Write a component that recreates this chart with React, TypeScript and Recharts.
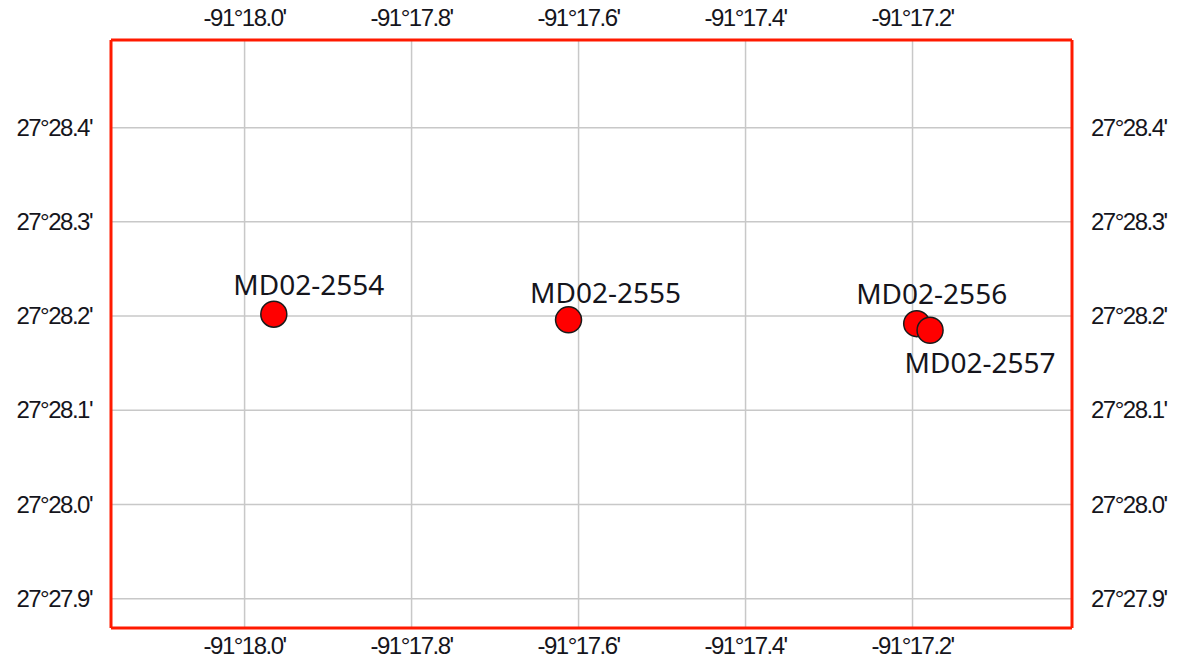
import { ScatterChart, Scatter, XAxis, YAxis, CartesianGrid, LabelList } from 'recharts';

// site names and positions, in arc-minutes (lon: -91° + min, lat: 27° + min)
const sites = ['MD02-2554', 'MD02-2555', 'MD02-2556', 'MD02-2557'];
const lonMinutes = [-17.965, -17.612, -17.195, -17.179];
const latMinutes = [28.202, 28.196, 28.192, 28.185];

const lonTicks = [-18.0, -17.8, -17.6, -17.4, -17.2];
const latTicks = [27.9, 28.0, 28.1, 28.2, 28.3, 28.4];

const data = sites.map((name, i) => ({ name, lon: lonMinutes[i], lat: latMinutes[i] }));

// label placement around each marker: [dx from centre, dy to baseline]
const labelOffsets: Record<string, [number, number]> = {
  'MD02-2554': [35, -19],
  'MD02-2555': [37, -17],
  'MD02-2556': [15, -20],
  'MD02-2557': [50, 43],
};

const fmtLon = (v: number) => `-91°${Math.abs(v).toFixed(1)}'`;
const fmtLat = (v: number) => `27°${v.toFixed(1)}'`;

const frame = { stroke: '#ff1a00', strokeWidth: 3 };

function Tick(props: any) {
  const { x, y, payload, textAnchor, verticalAnchor, fmt } = props;
  const dy = verticalAnchor === 'start' ? 18 : verticalAnchor === 'end' ? -6 : 8;
  return (
    <text x={x} y={y + dy} textAnchor={textAnchor} fill="#15151c" fontSize={24}
      fontFamily="Liberation Sans" letterSpacing={-1.5}>
      {fmt(payload.value)}
    </text>
  );
}

function Dot(props: any) {
  const { cx, cy } = props;
  return <circle cx={cx} cy={cy} r={13} fill="#ff0000" stroke="#1a1a1a" strokeWidth={1.5} />;
}

function SiteLabel(props: any) {
  const { x, y, width, height, value } = props;
  const cx = x + width / 2;
  const cy = y + height / 2;
  const [dx, dy] = labelOffsets[value] ?? [0, -18];
  return (
    <text x={cx + dx} y={cy + dy} textAnchor="middle" fill="#15151c"
      fontSize={28} fontFamily="Noto Sans">
      {value}
    </text>
  );
}

export default function App() {
  return (
    <div style={{ position: 'absolute', left: 0, top: 0, background: '#fff' }}>
      <ScatterChart width={1183} height={666} margin={{ top: 0, right: 0, bottom: 0, left: 0 }}>
        <CartesianGrid xAxisId="bottom" yAxisId="left" stroke="#c8c8c8" strokeWidth={1.5} />
        <XAxis xAxisId="bottom" orientation="bottom" type="number" dataKey="lon"
          domain={[-18.16, -17.009]} ticks={lonTicks}
          height={38} tickLine={false} axisLine={frame} tick={<Tick fmt={fmtLon} />} allowDataOverflow />
        <XAxis xAxisId="top" orientation="top" type="number" dataKey="lon"
          domain={[-18.16, -17.009]} ticks={lonTicks}
          height={40} tickLine={false} axisLine={frame} tick={<Tick fmt={fmtLon} />} allowDataOverflow />
        <YAxis yAxisId="left" orientation="left" type="number" dataKey="lat"
          domain={[27.869, 28.493]} ticks={latTicks}
          width={111} tickLine={false} axisLine={frame} tick={<Tick fmt={fmtLat} />} tickMargin={13} allowDataOverflow />
        <YAxis yAxisId="right" orientation="right" type="number" dataKey="lat"
          domain={[27.869, 28.493]} ticks={latTicks}
          width={111} tickLine={false} axisLine={frame} tick={<Tick fmt={fmtLat} />} tickMargin={13} allowDataOverflow />
        <Scatter data={data} xAxisId="bottom" yAxisId="left" shape={Dot} isAnimationActive={false}>
          <LabelList dataKey="name" content={SiteLabel} />
        </Scatter>
      </ScatterChart>
    </div>
  );
}
